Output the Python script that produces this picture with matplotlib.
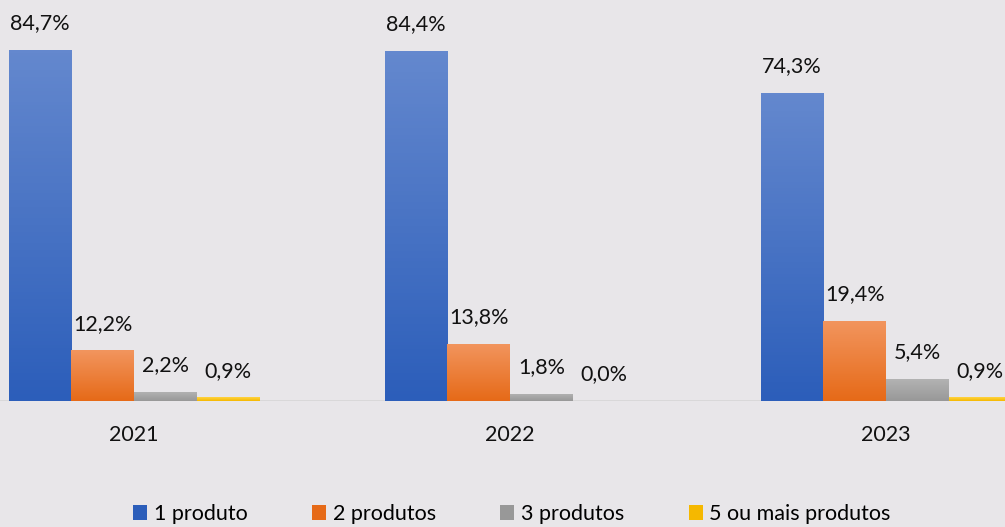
import matplotlib
matplotlib.use("Agg")
import matplotlib.pyplot as plt
import numpy as np
from matplotlib.colors import LinearSegmentedColormap
from matplotlib.patches import Patch

# data
years = ["2021", "2022", "2023"]
series = ["1 produto", "2 produtos", "3 produtos", "5 ou mais produtos"]
values = [
    [84.7, 84.4, 74.3],   # 1 produto
    [12.2, 13.8, 19.4],   # 2 produtos
    [2.2, 1.8, 5.4],      # 3 produtos
    [0.9, 0.0, 0.9],      # 5 ou mais produtos
]

# (top, bottom) colours of the gradient
grads = [("#6488ce", "#2c5eba"), ("#f2955e", "#e66a18"),
         ("#b4b4b4", "#989898"), ("#ffd340", "#f5b800")]
bg = "#e8e6e9"

plt.rcParams["font.family"] = ["Lato", "DejaVu Sans"]

fig = plt.figure(figsize=(10.05, 5.27), dpi=100, facecolor=bg)
ax = fig.add_axes([0, 126 / 527, 1, 401 / 527])
ax.set_facecolor(bg)

x = np.arange(len(years))
w = 0.1667
for i, s in enumerate(series):
    pos = x + (i - 1.5) * w
    bars = ax.bar(pos, values[i], w, color=grads[i][1], linewidth=0, zorder=2)
    cmap = LinearSegmentedColormap.from_list("g%d" % i, [grads[i][1], grads[i][0]])
    for b, v in zip(bars, values[i]):
        if v > 0:
            im = ax.imshow(np.linspace(0, 1, 100).reshape(-1, 1), cmap=cmap,
                           origin="lower", aspect="auto", zorder=3,
                           extent=[b.get_x(), b.get_x() + w, 0, v])
            im.set_clip_path(b)
        ax.annotate(("%.1f%%" % v).replace(".", ","), (b.get_x() + w / 2, v),
                    xytext=(0, 12), textcoords="offset points",
                    ha="center", va="bottom", fontsize=15.5, color="#111111")

ax.set_xlim(-134 / 376, (1005 - 134) / 376)
ax.set_ylim(0, 96.7)
ax.axhline(0, color="#d6d6d6", linewidth=1.2, zorder=1)
for s in ax.spines.values():
    s.set_visible(False)
ax.set_yticks([])
ax.set_xticks(x)
ax.set_xticklabels(years, fontsize=15.5, color="#111111")
ax.tick_params(axis="x", length=0, pad=17)

handles = [Patch(facecolor=g[1], edgecolor="none") for g in grads]
fig.legend(handles, series, loc="center", bbox_to_anchor=(512 / 1005, 13 / 527),
           ncol=4, frameon=False, fontsize=15.5, handlelength=0.65, handleheight=0.65,
           handletextpad=0.3, columnspacing=3.0, borderaxespad=0)

fig.savefig("out.png", dpi=100, facecolor=bg)
